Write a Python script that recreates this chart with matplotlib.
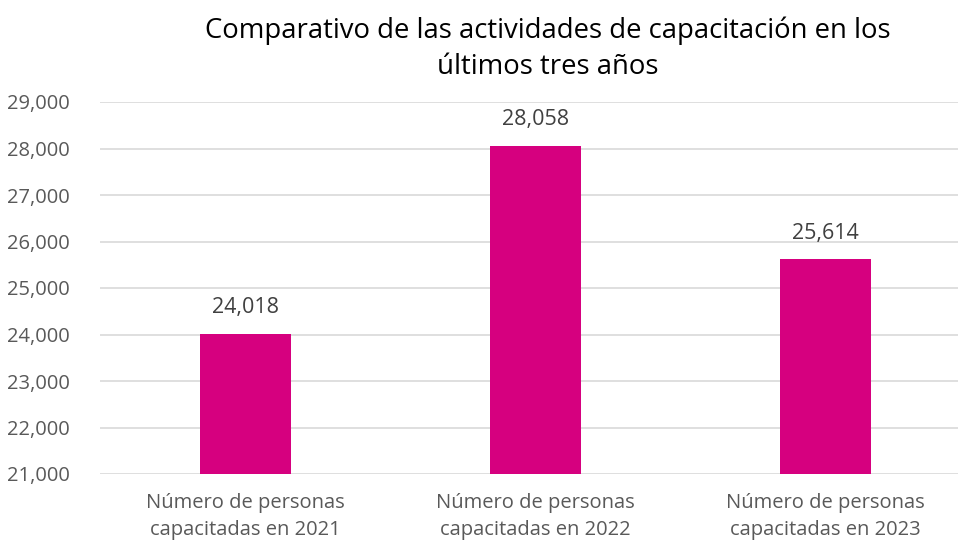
import matplotlib
matplotlib.use("Agg")
from matplotlib import pyplot as plt
from matplotlib.ticker import FuncFormatter

categories = ["Número de personas\ncapacitadas en 2021",
              "Número de personas\ncapacitadas en 2022",
              "Número de personas\ncapacitadas en 2023"]
values = [24018, 28058, 25614]
y_ticks = list(range(21000, 29001, 1000))

plt.rcParams["font.family"] = ["Open Sans", "DejaVu Sans"]

W, H = 958, 546
fig = plt.figure(figsize=(W / 100, H / 100), dpi=100)
ax = fig.add_axes([100 / W, (H - 474) / H, (958 - 100) / W, (474 - 102) / H])

x = list(range(len(values)))
ax.bar(x, values, width=0.314, color="#D6007F", zorder=3)
for xi, v in zip(x, values):
    ax.text(xi, v + 330, f"{v:,}", ha="center", va="bottom",
            fontsize=15.5, color="#404040")

ax.set_ylim(21000, 29000)
ax.set_xlim(-0.502, 2.457)
ax.set_yticks(y_ticks)
ax.yaxis.set_major_formatter(FuncFormatter(lambda v, p: f"{int(v):,}"))
ax.set_xticks(x)
ax.set_xticklabels(categories, linespacing=1.45)
ax.grid(axis="y", color="#d9d9d9", linewidth=1.2, zorder=0)
for s in ax.spines.values():
    s.set_visible(False)
ax.tick_params(axis="both", length=0, labelsize=14.5, labelcolor="#595959")
ax.tick_params(axis="y", pad=22)
ax.tick_params(axis="x", pad=14)

fig.text(548 / W, 1 - 49 / H, "Comparativo de las actividades de capacitación en los\núltimos tres años",
         ha="center", va="center", fontsize=19.8, color="#000000", linespacing=1.4)

fig.savefig("out.png", dpi=100)
